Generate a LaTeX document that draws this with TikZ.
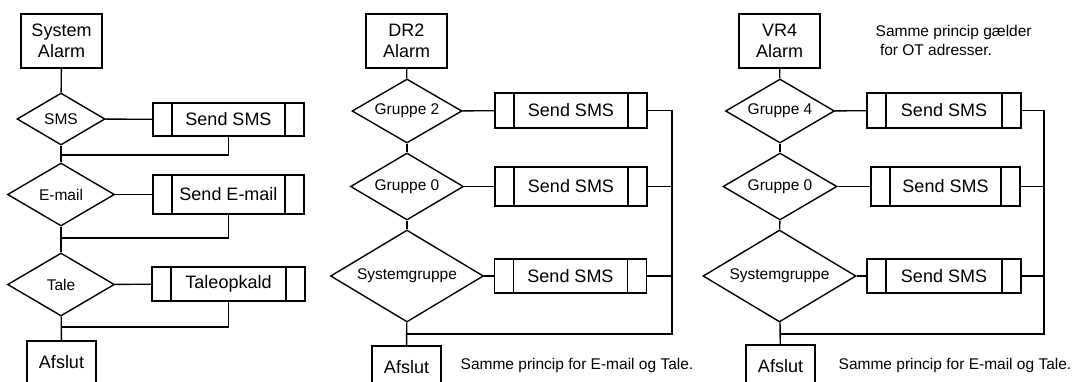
\documentclass[tikz,border=0pt]{standalone}
\usepackage{fontspec}
\setmainfont{Liberation Sans}
\usetikzlibrary{shapes.geometric}
\newcommand{\boxfont}{\fontsize{18}{21}\selectfont}
\newcommand{\askfont}{\fontsize{15.5}{19}\selectfont}
\tikzset{
  startbox/.style={draw, rectangle, minimum width=81pt, minimum height=54pt,
    inner sep=0pt, align=center, font=\boxfont},
  ask/.style={draw, diamond, aspect=1.7, inner sep=0pt, font=\askfont},
  subproc/.style={draw, rectangle, minimum width=152pt, inner sep=0pt, font=\boxfont,
    path picture={\draw[line width=1.4pt]
      ([xshift=19pt]path picture bounding box.north west) -- ([xshift=19pt]path picture bounding box.south west)
      ([xshift=-19pt]path picture bounding box.north east) -- ([xshift=-19pt]path picture bounding box.south east);}},
  endbox/.style={draw, rectangle, minimum width=69pt, minimum height=42pt, inner sep=0pt, font=\boxfont},
  note/.style={anchor=west, inner sep=0pt, font=\askfont, align=left}
}

\begin{document}
\begin{tikzpicture}[x=1pt, y=-1pt, line width=1.4pt]
\useasboundingbox (0,0) rectangle (1074,381);

% ---- System alarm ----
\node[startbox] (sys) at (61.5,41) {System\\Alarm};
\node[ask, minimum width=88pt, minimum height=52pt] (dSMS) at (61,119) {SMS};
\node[subproc, minimum width=151pt, minimum height=33pt] (pSMS) at (228.5,119.5) {Send SMS};
\node[ask, minimum width=107pt, minimum height=63pt] (dMail) at (61,194.5) {E-mail};
\node[subproc, minimum width=151pt, minimum height=39pt] (pMail) at (228.5,194.5) {Send E-mail};
\node[ask, minimum width=107pt, minimum height=63pt] (dTale) at (61,284.5) {Tale};
\node[subproc, minimum width=153pt, minimum height=34pt] (pTale) at (228.5,284) {Taleopkald};
\node[endbox] (endL) at (61.5,362) {Afslut};
\coordinate (jSMS) at (61,155);
\coordinate (jMail) at (61,238);
\coordinate (jTale) at (61,327);

\draw (sys) -- (dSMS);
\draw (dSMS) -- (pSMS);
\draw (pSMS.south) |- (jSMS);
\draw (dSMS) -- (dMail);
\draw (dMail) -- (pMail);
\draw (pMail.south) |- (jMail);
\draw (dMail) -- (dTale);
\draw (dTale) -- (pTale);
\draw (pTale.south) |- (jTale);
\draw (dTale) -- (endL);

% ---- DR2 alarm ----
\node[startbox] (dr) at (406.5,41) {DR2\\Alarm};
\node[ask, minimum width=110pt, minimum height=64pt] (dG2) at (407,111) {Gruppe 2};
\node[subproc, minimum height=35pt] (pG2) at (571,110.5) {Send SMS};
\node[ask, minimum width=113pt, minimum height=67pt] (dG0) at (407,186.5) {Gruppe 0};
\node[subproc, minimum height=39pt] (pG0) at (571,186.5) {Send SMS};
\node[ask, minimum width=153pt, minimum height=92pt] (dSys) at (407,276) {Systemgruppe};
\node[subproc, minimum height=34pt] (pSys) at (570.5,276) {Send SMS};
\node[endbox] (endM) at (406.5,367) {Afslut};
\node[note] (noteM) at (460,365) {Samme princip for E-mail og Tale.};
\coordinate (busM) at (672,334);
\coordinate (jM) at (407,334);

\draw (dr) -- (dG2);
\draw (dG2) -- (pG2);
\draw (dG2) -- (dG0);
\draw (dG0) -- (pG0);
\draw (dG0) -- (dSys);
\draw (dSys) -- (pSys);
\draw (dSys) -- (endM);
\draw (pG2.east) -| (busM) -- (jM);
\draw (pG0.east) -- (pG0.east -| busM);
\draw (pSys.east) -- (pSys.east -| busM);

% ---- VR4 alarm ----
\node[startbox] (vr) at (779.5,41) {VR4\\Alarm};
\node[note] (noteT) at (875,40) {Samme princip gælder\\\hspace*{4.3pt}for OT adresser.};
\node[ask, minimum width=109pt, minimum height=64pt] (dG4) at (780,111) {Gruppe 4};
\node[subproc, minimum width=154pt, minimum height=35pt] (pG4) at (944,110.5) {Send SMS};
\node[ask, minimum width=114pt, minimum height=67pt] (dG0R) at (780,186.5) {Gruppe 0};
\node[subproc, minimum width=149pt, minimum height=39pt] (pG0R) at (945.5,186.5) {Send SMS};
\node[ask, minimum width=153pt, minimum height=92pt] (dSysR) at (779.5,276) {Systemgruppe};
\node[subproc, minimum width=154pt, minimum height=34pt] (pSysR) at (944,276) {Send SMS};
\node[endbox] (endR) at (780.5,366) {Afslut};
\node[note] (noteR) at (838,365) {Samme princip for E-mail og Tale.};
\coordinate (busR) at (1044,334);
\coordinate (jR) at (780,334);

\draw (vr) -- (dG4);
\draw (dG4) -- (pG4);
\draw (dG4) -- (dG0R);
\draw (dG0R) -- (pG0R);
\draw (dG0R) -- (dSysR);
\draw (dSysR) -- (pSysR);
\draw (dSysR) -- (endR);
\draw (pG4.east) -| (busR) -- (jR);
\draw (pG0R.east) -- (pG0R.east -| busR);
\draw (pSysR.east) -- (pSysR.east -| busR);

\end{tikzpicture}
\end{document}
